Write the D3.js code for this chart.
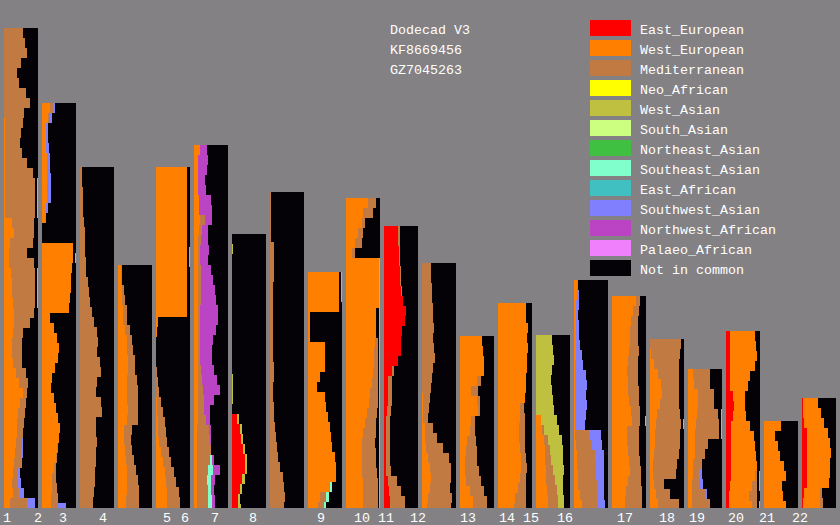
<!DOCTYPE html>
<html><head><meta charset="utf-8">
<script src="https://cdn.jsdelivr.net/npm/d3@7"></script>
<style>html,body{margin:0;padding:0;background:#838184;} svg{display:block}</style>
</head><body>
<script>
// ---------- DATA ----------
const titleLines = ["Dodecad V3", "KF8669456", "GZ7045263"];
const chromosomes = ["1","2","3","4","5","6","7","8","9","10","11","12","13","14","15","16","17","18","19","20","21","22"];
const labelPos = [3,34,59,99,163,181,211,249,317,354,378,410,460,499,523,557,617,659,689,728,759,792];
const ancestries = ["East_European","West_European","Mediterranean","Neo_African","West_Asian","South_Asian","Northeast_Asian","Southeast_Asian","East_African","Southwest_Asian","Northwest_African","Palaeo_African","Not in common"];
const ancestryColors = ["#ff0000","#ff8000","#c17a41","#ffff00","#bfbf40","#ccff80","#40c040","#80ffcc","#40c0c0","#8080ff","#bb44c4","#f080fc","#040206"];
// painted length of each column (position units)
const colLength = [480,405,341,243,341,363,274,316,236,310,282,245,172,205,173,228,212,169,139,177,87,110];
const sampleStep = 10;
// share (%) of each ancestry per sample, from top of column downward; missing = 0
const eastEuropean = [[],[],[],[],[],[],
 [0,0,0,0,0,0,0,0,0,0,0,0,0,0,0,0,0,0,15,24,27,33,39,39,30,24,18,18],
 [],[],[],
 [42,42,45,45,48,48,51,57,66,63,54,51,51,42,24,12,12,12,9,6,6,6,6,6,6,12,15,18,18],
 [],[],[],[],[],[],[],[],
 [12,12,12,12,12,12,21,24,21,15,15,15,15,15,15,12,9,9],
 [],
 [3,3,6,15,15,15,15,15,15,6,3]];
const westEuropean = [
 [0,0,0,0,0,0,0,0,0,3,3,3,3,3,3,3,3,3,3,24,30,18,15,15,21,24,24,27,30,30,27,24,24,27,36,45,57,48,42,39,39,36,33,30,27,24,27,18],
 [24,18,12,12,12,15,15,15,15,15,12,9,0,0,90,90,87,84,84,81,78,24,36,45,51,48,39,30,27,36,42,48,54,51,45,42,36,30,30,27,27],
 [],
 [9,9,12,12,15,15,21,27,27,30,30,27,27,27,30,27,18,18,21,24,27,27,27,24,24],
 [90,90,90,90,90,90,90,90,90,90,90,90,90,90,90,6,3,0,0,0,0,0,0,3,3,6,6,9,15,21,27,30,33,33,33],
 [18,12,12,12,12,15,15,18,15,12,12,12,12,12,12,12,12,12,12,12,12,12,12,12,12,12,12,12,9,9,9,9,9,9,9,9,9],
 [],[],
 [90,90,90,90,6,6,6,51,51,51,36,27,51,54,60,66,69,72,78,81,81,66,36,30],
 [66,51,48,36,27,18,96,96,96,96,96,87,87,87,84,81,81,78,75,72,69,63,57,51,48,48,48,48,51,51,51],
 [],
 [0,0,0,0,0,0,0,0,0,0,0,0,0,3,3,3,9,9,12,18,24,27,24,18,15],
 [66,69,72,72,51,33,51,54,33,30,21,18,15,15,18,30,39,39],
 [81,81,87,84,87,84,84,81,81,78,66,66,63,63,66,69,69,66,60,51,48],
 [0,0,0,0,0,0,0,0,15,18,24,27,27,30,30,33,36,36],
 [9,9,6,6,6,6,6,6,3,3,3,3,3,3,3,3,6,9,9,12,12,18,24],
 [72,63,57,54,54,51,48,45,48,48,51,57,60,45,45,48,51,54,48,42,39,39],
 [0,3,12,24,33,36,30,21,18,15,15,12,9,9,12,18,24],
 [15,18,30,30,27,24,21,21,21,15,15,12,12,12],
 [72,75,78,72,60,54,36,33,39,57,66,69,72,75,69,63,60,66],
 [51,33,42,48,60,66,54,57,66],
 [45,54,60,60,66,69,66,66,63,48,51]];
const mediterranean = [
 [57,63,69,51,39,45,66,75,60,54,48,45,51,66,81,87,87,87,87,63,57,66,54,72,69,66,66,63,57,45,30,30,30,27,30,27,12,18,21,21,18,18,18,21,15,18,18,51],
 [9,6,0,0,0,0,0,0,3,0,0,0,0,0,0,0,0,0,0,0,0,0,0,0,0,0,0,0,0,0,0,0,0,0,3,3,6,12,15,18,21],
 [6,6,9,9,9,12,15,15,15,18,18,24,27,30,36,42,51,54,51,60,63,51,48,63,66,48,48,51,48,48,45,45,42,39,39],
 [3,3,6,9,12,12,15,15,18,21,21,30,33,33,30,33,24,21,21,24,27,33,36,39,39],
 [0,0,0,0,0,0,0,0,0,0,0,0,0,0,0,0,0,0,0,0,3,6,9,12,18,21,24,24,24,24,27,30,36,39,39],
 [0,0,0,0,0,0,0,15,9,9,6,6,9,9,9,9,6,6,6,6,6,6,9,12,15,18,18,24,36,39,42,39,33,30,33,33,33],
 [],
 [3,3,3,3,3,12,12,12,12,9,9,9,9,9,9,9,9,12,12,9,9,12,12,15,18,21,24,30,39,42,45,42],
 [0,0,0,0,0,0,0,0,0,0,0,0,0,0,0,0,0,0,0,0,0,0,18,18],
 [21,27,9,15,21,9,0,0,0,0,0,0,0,0,9,12,12,15,18,21,24,27,30,36,36,39,39,42,42,42,42],
 [6,6,3,3,3,3,3,0,0,0,0,0,0,0,6,12,12,12,12,12,12,12,12,12,15,27,36,45,45],
 [27,27,30,30,33,33,36,33,36,39,33,30,27,21,18,15,24,36,51,60,60,57,57,69,69],
 [0,0,0,0,12,21,9,6,12,15,27,33,36,42,45,42,39,39],
 [0,0,0,0,0,0,0,0,0,0,9,12,15,15,12,12,15,15,21,30,33],
 [0,0,0,0,0,0,0,0,0,6,12,15,18,21,27,30,30,30],
 [0,0,0,0,0,0,0,0,0,0,0,0,0,0,0,42,48,54,57,54,57,51,48],
 [9,15,18,21,21,27,27,30,27,30,27,24,21,33,33,30,30,30,36,45,48,48],
 [90,84,72,60,51,48,54,66,72,72,72,72,69,66,30,42,60],
 [51,48,45,45,60,66,69,39,30,24,18,24,39,51],
 [0,0,0,0,0,0,0,0,0,0,0,0,0,0,6,15,21,15],
 [],
 [0,0,0,0,0,0,0,0,0,6,9]];
const neoAfrican = [];
const westAsian = [[],[],[],[],[],[],
 [0,3,0,0,0,0,0,0,0,0,0,0,0,0,3,3,3,0,6,6,6,6,6,6,9,6,6,9],
 [],[],[],[],[],[],[],
 [48,51,54,48,45,48,51,54,48,45,39,36,33,30,21,15,15,15]];
const southAsian = [];
const northeastAsian = [];
const southeastAsian = [[],[],[],[],[],
 [0,0,0,0,0,0,0,0,0,0,0,0,0,0,0,0,0,0,0,0,0,0,0,0,0,0,0,0,0,0,0,6,15,12,9,12,12],
 [],[],
 [0,0,0,0,0,0,0,0,0,0,0,0,0,0,0,0,0,0,0,0,0,6,9,6]];
const eastAfrican = [];
const southwestAsian = [
 [0,0,0,0,0,0,0,0,0,0,0,0,0,0,0,0,0,0,0,0,0,0,0,0,0,0,0,0,0,0,0,0,0,0,0,0,0,0,0,0,0,3,6,3,6,9,15,21],
 [6,6,6,6,9,9,9,12,9,12,6,3,0,0,0,0,0,0,0,0,0,0,0,0,0,0,0,0,0,0,0,0,0,0,0,0,0,0,0,3,24],
 [],[],[],[],[],[],[],[],[],[],[],[],[],
 [3,6,9,6,9,9,12,18,24,33,36,33,36,33,30,33,27,24,21,21,18,18,18],
 [],[],
 [0,0,0,0,0,0,0,0,0,3,9,9,6,3]];
const northwestAfrican = [[],[],[],[],[],
 [21,30,27,21,24,36,39,21,18,21,27,24,30,36,42,45,54,54,48,39,36,36,39,45,48,30,18,12,6,3,0,6,18,12,9,9,9]];
const palaeoAfrican = [
 [0,0,0,0,0,0,0,0,0,0,0,0,0,0,0,3,3,3,3,0,0,0,0,0,3,3,3,3],
 [0,0,0,0,0,0,0,0,0,0,0,0,0,0,0,3],
 [],[],
 [0,0,0,0,0,0,0,0,3,3],
 [],[],[],
 [3,3,3],
 [0,0,0,0,0,0,3,3,3,3,3,3,3,3,3,3,3,3,3,3,3,3,3,3,3,3,3,3,3,3,3],
 [],[],[],[],[],[],
 [0,0,0,0,0,0,0,0,0,0,0,0,3],
 [0,0,0,0,0,0,0,0,3],
 [0,0,0,0,3,3,3],
 [0,0,0,0,0,0,0,0,0,0,0,0,0,0,3,3,0,3]];

// ---------- DRAW ----------
const W = 840, H = 525;
const bg = "#838184";
const font = "'Liberation Mono', 'DejaVu Sans Mono', monospace";
const svg = d3.select("body").append("svg").attr("width", W).attr("height", H);
svg.append("rect").attr("width", W).attr("height", H).attr("fill", bg);

const stackSeries = [eastEuropean, westEuropean, mediterranean, neoAfrican, westAsian, southAsian,
  northeastAsian, southeastAsian, eastAfrican, southwestAsian, northwestAfrican];
const colIdx = d3.range(colLength.length);
const band = d3.scaleBand().domain(colIdx).range([2, 838]).paddingInner(4/38).paddingOuter(2/38);
const y = d3.scaleLinear().domain([0, 480]).range([508, 28]);
const xs = d3.scaleLinear().domain([0, 100]).range([0, band.bandwidth()]);

const cols = svg.append("g").attr("shape-rendering", "crispEdges");
colIdx.forEach(i => {
  const L = colLength[i];
  const g = cols.append("g").attr("transform", `translate(${band(i)},0)`);
  g.append("rect").attr("x", 0).attr("y", y(L)).attr("width", band.bandwidth())
    .attr("height", y(0) - y(L)).attr("fill", ancestryColors[12]);
  const n = Math.ceil(L / sampleStep);
  const rows = [];
  for (let k = 0; k < n; k++) {
    const top = L - k * sampleStep, bot = Math.max(0, L - (k + 1) * sampleStep);
    let cum = 0;
    stackSeries.forEach((s, si) => {
      const v = ((s[i] || [])[k]) || 0;
      if (v > 0) rows.push({x0: cum, x1: cum + v, top, bot, c: ancestryColors[si]});
      cum += v;
    });
    const p = ((palaeoAfrican[i] || [])[k]) || 0;
    if (p > 0) rows.push({x0: 100 - p, x1: 100, top, bot, c: ancestryColors[11]});
  }
  g.selectAll("rect.seg").data(rows).join("rect").attr("class", "seg")
    .attr("x", d => xs(d.x0)).attr("width", d => xs(d.x1) - xs(d.x0))
    .attr("y", d => y(d.top)).attr("height", d => y(d.bot) - y(d.top))
    .attr("fill", d => d.c);
});

// chromosome labels
svg.append("g").selectAll("text").data(chromosomes).join("text")
  .attr("x", (d, i) => labelPos[i]).attr("y", 522)
  .attr("fill", "#ffffff").attr("font-family", font).attr("font-size", "13.33px")
  .text(d => d);

// title
svg.append("g").selectAll("text").data(titleLines).join("text")
  .attr("x", 390).attr("y", (d, i) => 34 + i * 20)
  .attr("fill", "#ffffff").attr("font-family", font).attr("font-size", "13.33px")
  .text(d => d);

// legend
const lg = svg.append("g");
const rowY = d3.scaleLinear().domain([0, 1]).range([20, 40]);
lg.selectAll("rect").data(ancestries).join("rect")
  .attr("x", 590).attr("y", (d, i) => rowY(i)).attr("width", 41).attr("height", 16)
  .attr("fill", (d, i) => ancestryColors[i]);
lg.selectAll("text").data(ancestries).join("text")
  .attr("x", 640).attr("y", (d, i) => rowY(i) + 14)
  .attr("fill", "#ffffff").attr("font-family", font).attr("font-size", "13.33px")
  .text(d => d);
</script>
</body></html>
